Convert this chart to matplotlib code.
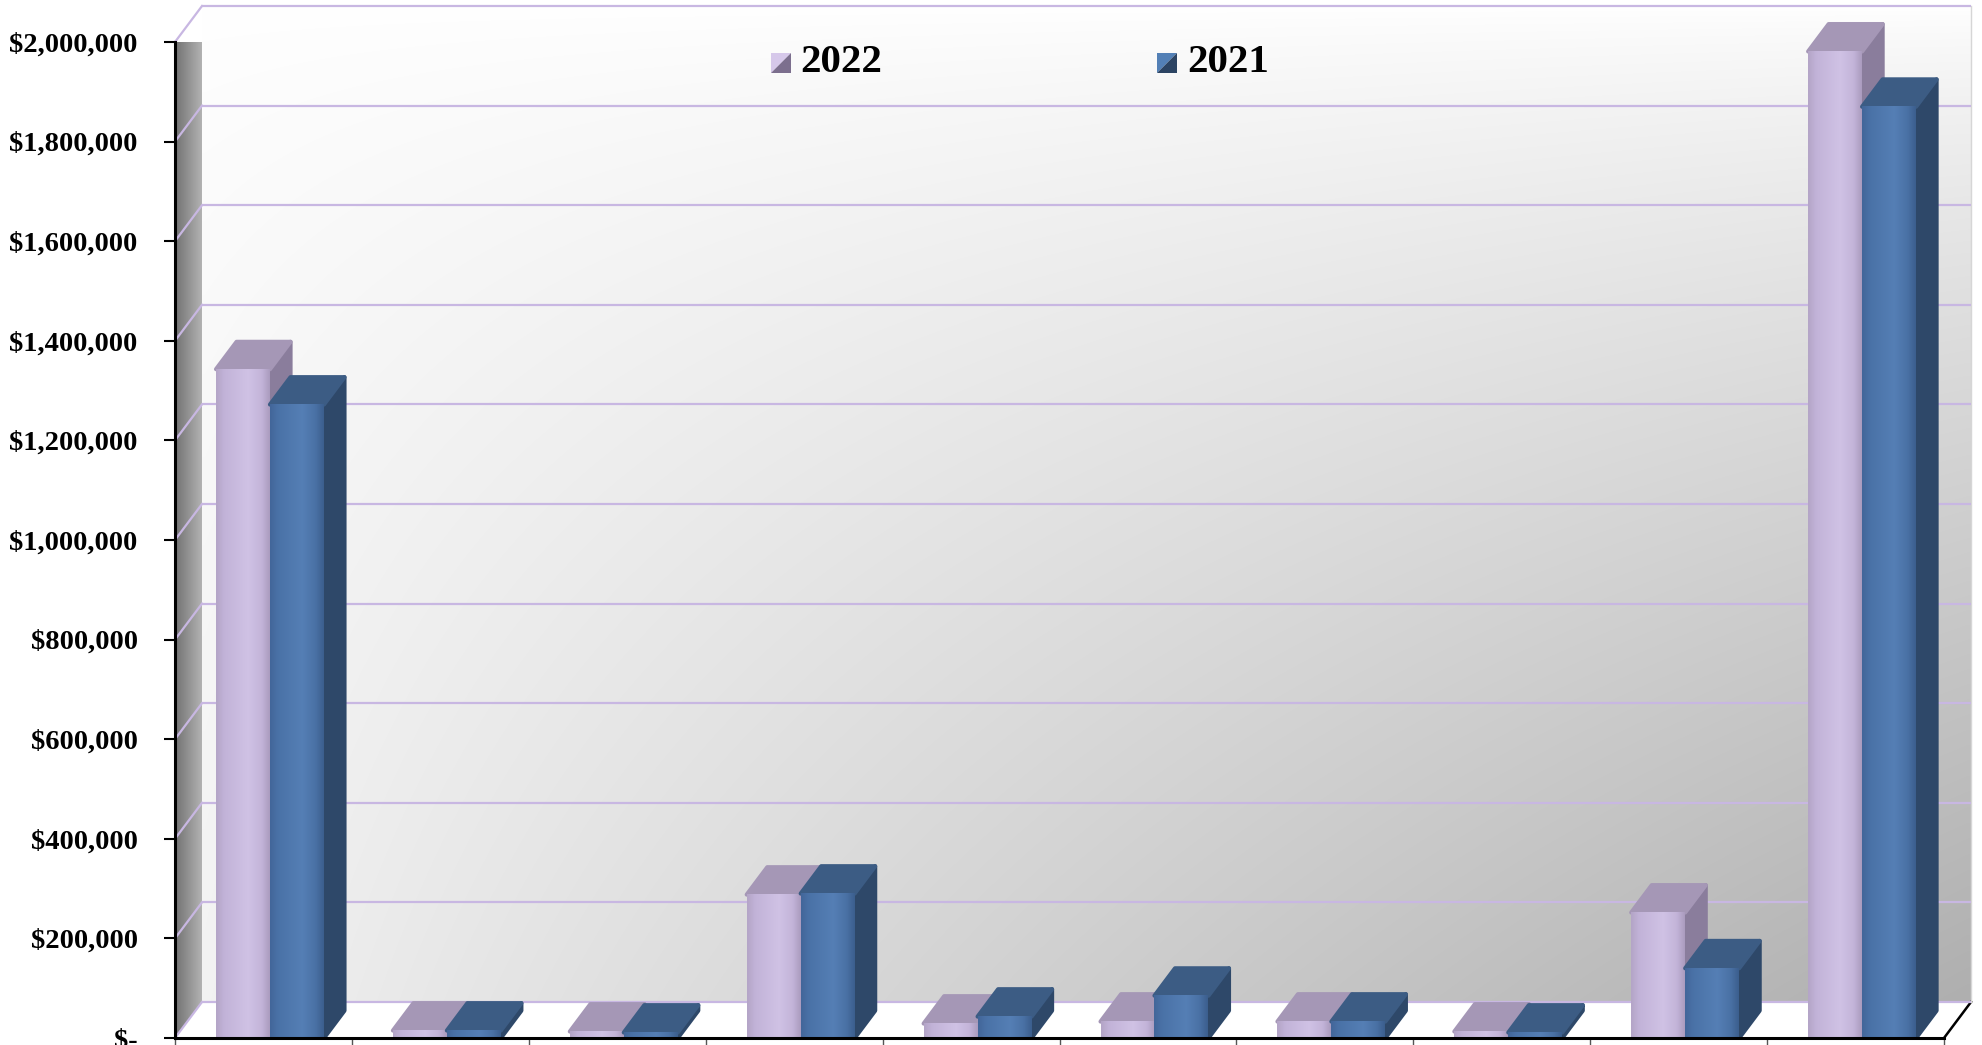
import numpy as np
import matplotlib.pyplot as plt
import matplotlib.colors as mcolors
from matplotlib.patches import Polygon
from matplotlib.ticker import FuncFormatter, MultipleLocator

plt.rcParams['font.family'] = ['Liberation Serif', 'DejaVu Serif']
plt.rcParams['font.weight'] = 'bold'

# Sales per category, two years
years = ['2022', '2021']
sales_2022 = [1343000, 15000, 13000, 288000, 29000, 33000, 33000, 13000, 252000, 1981000]
sales_2021 = [1272000, 15000, 11000, 290000, 43000, 85000, 33000, 11000, 140000, 1870000]
n_cat = len(sales_2022)
y_max = 2000000
y_step = 200000

W, H = 1982, 1045
fig = plt.figure(figsize=(W / 100, H / 100), dpi=100)
fig.patch.set_facecolor('white')
ax = fig.add_axes([175 / W, 1 - 1038 / H, (1944 - 175) / W, (1038 - 42) / H])
ax.set_facecolor('none')

# oblique depth offset of the back wall, in data units
DX = 27 / ((1944 - 175) / n_cat)
DY = 36 * y_max / (1038 - 42)
# bars use part of the depth
BD = 0.76
bdx, bdy = BD * DX, BD * DY
BW = 0.305        # width of one bar
GAP = 0.232       # left offset of the bar pair in each category


def hgrad(stops, n=64):
    pos = np.linspace(0, 1, n)
    xs = [s[0] for s in stops]
    rgb = np.array([mcolors.to_rgb(s[1]) for s in stops])
    arr = np.stack([np.interp(pos, xs, rgb[:, k]) for k in range(3)], axis=-1)
    return arr[np.newaxis, :, :]


# back wall: white at the top, greyer towards the lower right
u = np.linspace(0, 1, 300)[np.newaxis, :]
t = np.linspace(0, 1, 300)[:, np.newaxis]
drop = 80 * t ** 0.75 * (0.1 + 0.9 * u) ** 0.8
g = (255 - drop) / 255
wall = np.dstack([g, g, g])
im = ax.imshow(wall, extent=[DX, n_cat + DX, DY, y_max + DY], aspect='auto',
               interpolation='bilinear', zorder=0)
im.set_clip_on(False)

# left side wall
side_wall = Polygon([(0, 0), (DX, DY), (DX, y_max + DY), (0, y_max)], closed=True,
                    fc='none', ec='none', transform=ax.transData)
ax.add_patch(side_wall)
im2 = ax.imshow(hgrad([(0, '#727272'), (1, '#b2b2b2')]),
                extent=[0, DX, 0, y_max + DY], aspect='auto', zorder=0.5)
im2.set_clip_path(side_wall)

# floor
ax.add_patch(Polygon([(0, 0), (n_cat, 0), (n_cat + DX, DY), (DX, DY)], closed=True,
                     fc='white', ec='none', zorder=0.8, clip_on=False))
ax.plot([n_cat, n_cat + DX], [0, DY], color='black', lw=1.8, zorder=1, clip_on=False)
ax.plot([n_cat + DX, n_cat + DX], [DY, y_max + DY], color='#d6d6d6', lw=1, zorder=1,
        clip_on=False)

# gridlines on back and side walls
grid_c = '#c8b7e2'
for v in np.arange(0, y_max + 1, y_step):
    ax.plot([DX, n_cat + DX], [v + DY, v + DY], color=grid_c, lw=1.6, zorder=1,
            clip_on=False, solid_capstyle='butt')
    ax.plot([0, DX], [v, v + DY], color=grid_c, lw=1.6, zorder=1, clip_on=False)

styles = [
    {'front': [(0, '#b4a5c7'), (0.15, '#c2b3d8'), (0.6, '#d0c2e5'), (0.85, '#c3b4d9'), (1, '#ab9cbf')],
     'top': '#a597b6', 'side': '#8a7d9c',
     'light': '#d6c8ea', 'dark': '#7c6f8e'},
    {'front': [(0, '#42669a'), (0.15, '#4a72a7'), (0.6, '#557fb5'), (0.85, '#4a71a5'), (1, '#3c5f8e')],
     'top': '#3c5c84', 'side': '#2e4869',
     'light': '#5380b6', 'dark': '#2c4463'},
]


def draw_bar(x0, v, st, z):
    ax.add_patch(Polygon([(x0 + BW, 0), (x0 + BW + bdx, bdy), (x0 + BW + bdx, v + bdy), (x0 + BW, v)],
                         closed=True, fc=st['side'], ec=st['side'], lw=3,
                         joinstyle='round', zorder=z, clip_on=False))
    ax.add_patch(Polygon([(x0, v), (x0 + BW, v), (x0 + BW + bdx, v + bdy), (x0 + bdx, v + bdy)],
                         closed=True, fc=st['top'], ec=st['top'], lw=3,
                         joinstyle='round', zorder=z + 0.01, clip_on=False))
    face = ax.imshow(hgrad(st['front']), extent=[x0, x0 + BW, 0, v], aspect='auto',
                     interpolation='bilinear', zorder=z + 0.02)
    face.set_clip_on(False)


z = 3
for i in range(n_cat):
    for k, vals in enumerate([sales_2022, sales_2021]):
        draw_bar(i + GAP + k * BW, vals[i], styles[k], z)
        z += 0.1

ax.set_xlim(0, n_cat)
ax.set_ylim(0, y_max)

for s in ['top', 'right']:
    ax.spines[s].set_visible(False)
for s in ['left', 'bottom']:
    ax.spines[s].set_linewidth(2.2)
    ax.spines[s].set_color('black')
    ax.spines[s].set_zorder(20)

ax.yaxis.set_major_locator(MultipleLocator(y_step))
ax.yaxis.set_major_formatter(FuncFormatter(lambda v, p: '$-' if v == 0 else f'${v:,.0f}'))
ax.set_xticks(np.arange(0, n_cat + 1))
ax.tick_params(axis='y', direction='out', length=8, width=1.5, pad=19, labelsize=20.5)
ax.tick_params(axis='x', direction='out', length=6, width=1, color='#555555', labelbottom=False)

# legend
def fx(px):
    return px / W


def fy(py):
    return 1 - py / H


for (mx, tx), st, lab in zip([(771, 800), (1157, 1187)], styles, years):
    x0, x1, y0, y1 = mx, mx + 20, 53, 73
    fig.add_artist(Polygon([(fx(x0), fy(y0)), (fx(x1), fy(y0)), (fx(x0), fy(y1))], closed=True,
                           fc=st['light'], ec='none', transform=fig.transFigure))
    fig.add_artist(Polygon([(fx(x1), fy(y0)), (fx(x1), fy(y1)), (fx(x0), fy(y1))], closed=True,
                           fc=st['dark'], ec='none', transform=fig.transFigure))
    fig.text(fx(tx), fy(63), lab, fontsize=29.5, fontweight='bold', ha='left', va='center')

fig.savefig('out.png', dpi=100)
